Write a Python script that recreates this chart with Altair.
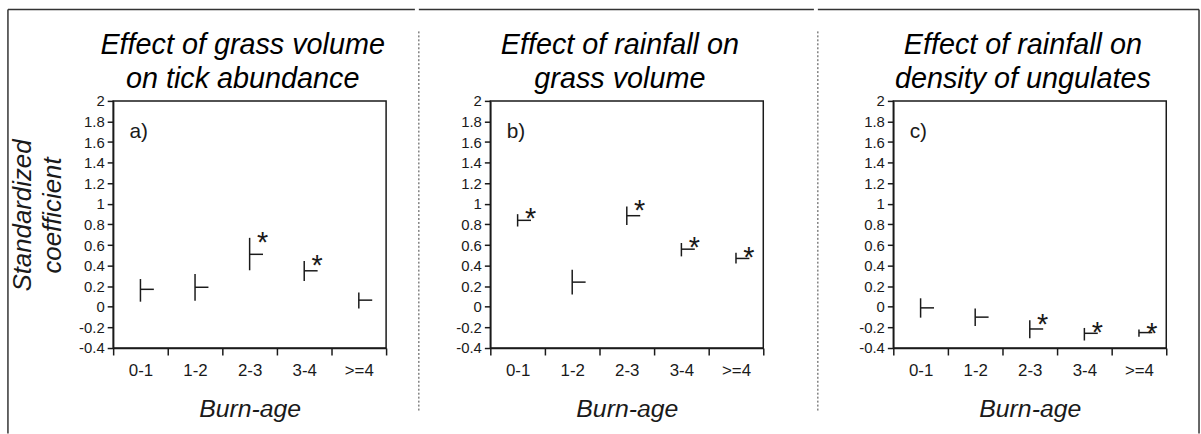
import json
import altair as alt
import pandas as pd

# ---------------- data ----------------
cats = ["0-1", "1-2", "2-3", "3-4", ">=4"]

a_mean = [0.17, 0.19, 0.51, 0.35, 0.065]
a_lo = [0.05, 0.06, 0.355, 0.25, -0.015]
a_hi = [0.27, 0.32, 0.67, 0.445, 0.14]
a_sig = [False, False, True, True, False]

b_mean = [0.84, 0.24, 0.885, 0.56, 0.47]
b_lo = [0.78, 0.12, 0.795, 0.49, 0.42]
b_hi = [0.90, 0.36, 0.975, 0.62, 0.525]
b_sig = [True, False, True, True, True]

c_mean = [-0.01, -0.10, -0.215, -0.257, -0.25]
c_lo = [-0.105, -0.187, -0.306, -0.327, -0.29]
c_hi = [0.083, -0.016, -0.13, -0.205, -0.22]
c_sig = [False, False, True, True, True]

titles = [
    ["Effect of grass volume", "on tick abundance"],
    ["Effect of rainfall on", "grass volume"],
    ["Effect of rainfall on", "density of ungulates"],
]
letters = ["a)", "b)", "c)"]
letter_pos = [0.3, 1.7]
y_ticks = [-0.4, -0.2, 0, 0.2, 0.4, 0.6, 0.8, 1, 1.2, 1.4, 1.6, 1.8, 2]
x_title = "Burn-age"
y_title = ["Standardized", "coefficient"]

# ---------------- style ----------------
FONT = "Liberation Sans"
INK = "#1a1a1a"
W, H = 275, 249
BAND = W / len(cats)


def panel(mean, lo, hi, sig, title, letter, show_ytitle, deco):
    df = pd.DataFrame({
        "cat": cats,
        "pos": [i + 0.5 for i in range(len(cats))],
        "mean": mean, "lo": lo, "hi": hi, "sig": sig,
    })
    xscale = alt.Scale(domain=[0, len(cats)], nice=False, zero=False)
    yscale = alt.Scale(domain=[y_ticks[0], y_ticks[-1]], nice=False, zero=False)
    label_expr = json.dumps(cats + [""]) + "[datum.value]"
    xaxis = alt.Axis(
        values=list(range(len(cats) + 1)), labelExpr=label_expr,
        labelOffset=BAND / 2, labelFlush=False, labelOverlap=False,
        tickSize=7, tickWidth=1.5, tickColor=INK, domainColor=INK, domainWidth=1.5,
        labelFont=FONT, labelFontSize=17, labelColor=INK, labelPadding=8,
        grid=False, titleFont=FONT, titleFontSize=25, titleFontStyle="italic",
        titleFontWeight="normal", titleColor=INK, titlePadding=18,
    )
    yargs = dict(
        values=y_ticks, labelExpr="'' + datum.value", labelFlush=False,
        labelOverlap=False, tickSize=6, tickWidth=1.5, tickColor=INK,
        domainColor=INK, domainWidth=1.5, labelFont=FONT, labelFontSize=15,
        labelColor=INK, labelPadding=3, grid=False,
    )
    if show_ytitle:
        yaxis = alt.Axis(**yargs, titleFont=FONT, titleFontSize=26,
                         titleFontStyle="italic", titleFontWeight="normal",
                         titleColor=INK, titleLineHeight=30, titlePadding=13,
                         titleY=115)
        ytitle = y_title
    else:
        yaxis = alt.Axis(**yargs)
        ytitle = None

    def X(f):
        return alt.X(f, type="quantitative", scale=xscale, axis=xaxis, title=x_title)

    def Y(f):
        if ytitle is None:
            return alt.Y(f, type="quantitative", scale=yscale, axis=yaxis, title=None)
        return alt.Y(f, type="quantitative", scale=yscale, axis=yaxis, title=ytitle)

    base = alt.Chart(df)
    bars = base.mark_rule(color=INK, strokeWidth=1.5).encode(
        x=X("pos"), y=Y("lo"), y2="hi")
    means = base.mark_rule(color=INK, strokeWidth=1.5, x2Offset=13.5).encode(
        x=X("pos"), x2="pos", y=Y("mean"))
    stars = base.transform_filter("datum.sig").mark_text(
        text="*", font=FONT, fontSize=29, color=INK, dx=13, dy=14,
        align="center", baseline="alphabetic").encode(x=X("pos"), y=Y("hi"))
    ldf = pd.DataFrame({"lx": [letter_pos[0]], "ly": [letter_pos[1]], "t": [letter]})
    lab = alt.Chart(ldf).mark_text(
        font=FONT, fontSize=21, color=INK, align="left", baseline="middle"
    ).encode(x=X("lx"), y=Y("ly"), text="t:N")

    layers = [bars, means, stars, lab]
    one = alt.Chart(pd.DataFrame({"k": [0]}))
    for d in deco:
        kind = d[0]
        if kind == "h":
            layers.append(one.mark_rule(color="#333333", strokeWidth=1.5).encode(
                x=alt.value(d[1]), x2=alt.value(d[2]), y=alt.value(d[3])))
        elif kind == "v":
            layers.append(one.mark_rule(color="#333333", strokeWidth=1.5).encode(
                x=alt.value(d[1]), y=alt.value(d[2]), y2=alt.value(d[3])))
        else:
            layers.append(one.mark_rule(color="#444444", strokeWidth=1,
                                        strokeDash=[2, 2]).encode(
                x=alt.value(d[1]), y=alt.value(d[2]), y2=alt.value(d[3])))

    return alt.layer(*layers).properties(
        width=W, height=H,
        title=alt.TitleParams(text=title, font=FONT, fontSize=29,
                              fontStyle="italic", fontWeight="normal",
                              color="black", lineHeight=34, offset=-86,
                              anchor="middle", dx=-7, frame="group"),
    )


pa = panel(a_mean, a_lo, a_hi, a_sig, titles[0], letters[0], True,
           [("v", -106, -92, 335), ("h", -106, 304, -92)])
pb = panel(b_mean, b_lo, b_hi, b_sig, titles[1], letters[1], False,
           [("d", -72, -70, 314), ("h", -72, 326, -92)])
pc = panel(c_mean, c_lo, c_hi, c_sig, titles[2], letters[2], False,
           [("d", -76, -70, 314), ("h", -76, 308, -92), ("v", 308, -92, 335)])

chart = alt.hconcat(pa, pb, pc, spacing=0, bounds="full").properties(
    padding={"left": 6, "top": 6, "right": 0, "bottom": 0},
    background="white",
).configure_view(stroke=INK, strokeWidth=1.5)

chart.save("out.html", embed_options={"renderer": "svg", "actions": False})
